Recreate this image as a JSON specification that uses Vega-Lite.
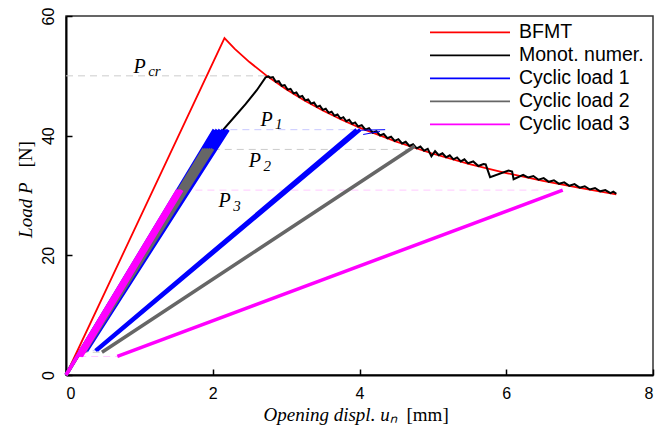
{
  "$schema": "https://vega.github.io/schema/vega-lite/v6.json",
  "width": 587,
  "height": 359,
  "autosize": {"type": "none"},
  "padding": {"left": 66, "top": 16, "right": 2, "bottom": 55},
  "background": "white",
  "config": {
    "view": {"stroke": "#333333", "strokeWidth": 1.5},
    "axis": {
      "grid": false,
      "domainColor": "#000000",
      "domainWidth": 2,
      "tickColor": "#000000",
      "tickWidth": 1.5,
      "labelFont": "Liberation Sans",
      "labelFontSize": 16,
      "labelColor": "#000000",
      "titleFont": "Liberation Serif",
      "titleFontStyle": "italic",
      "titleFontWeight": "normal",
      "titleFontSize": 19,
      "titleColor": "#000000"
    }
  },
  "resolve": {"axis": {"x": "independent", "y": "independent"}},
  "datasets": {
    "lines": [
      {"series": "BFMT", "seg": "a", "i": 1, "x": 0, "y": 0},
      {"series": "BFMT", "seg": "a", "i": 2, "x": 2.16, "y": 56.3},
      {"series": "BFMT", "seg": "a", "i": 3, "x": 2.3, "y": 54.5},
      {"series": "BFMT", "seg": "a", "i": 4, "x": 2.5, "y": 52.3},
      {"series": "BFMT", "seg": "a", "i": 5, "x": 2.75, "y": 49.87},
      {"series": "BFMT", "seg": "a", "i": 6, "x": 3.0, "y": 47.75},
      {"series": "BFMT", "seg": "a", "i": 7, "x": 3.25, "y": 45.87},
      {"series": "BFMT", "seg": "a", "i": 8, "x": 3.5, "y": 44.2},
      {"series": "BFMT", "seg": "a", "i": 9, "x": 3.75, "y": 42.7},
      {"series": "BFMT", "seg": "a", "i": 10, "x": 4.0, "y": 41.35},
      {"series": "BFMT", "seg": "a", "i": 11, "x": 4.5, "y": 38.99},
      {"series": "BFMT", "seg": "a", "i": 12, "x": 5.0, "y": 36.98},
      {"series": "BFMT", "seg": "a", "i": 13, "x": 5.5, "y": 35.26},
      {"series": "BFMT", "seg": "a", "i": 14, "x": 6.0, "y": 33.76},
      {"series": "BFMT", "seg": "a", "i": 15, "x": 6.5, "y": 32.44},
      {"series": "BFMT", "seg": "a", "i": 16, "x": 7.0, "y": 31.26},
      {"series": "BFMT", "seg": "a", "i": 17, "x": 7.5, "y": 30.2},

      {"series": "Monot. numer.", "seg": "a", "i": 1, "x": 0, "y": 0},
      {"series": "Monot. numer.", "seg": "a", "i": 2, "x": 1.0, "y": 19.1},
      {"series": "Monot. numer.", "seg": "a", "i": 3, "x": 2.15, "y": 41.1},
      {"series": "Monot. numer.", "seg": "a", "i": 4, "x": 2.3, "y": 43.2},
      {"series": "Monot. numer.", "seg": "a", "i": 5, "x": 2.45, "y": 45.3},
      {"series": "Monot. numer.", "seg": "a", "i": 6, "x": 2.6, "y": 47.6},
      {"series": "Monot. numer.", "seg": "a", "i": 7, "x": 2.72, "y": 49.75},
      {"series": "Monot. numer.", "seg": "a", "i": 8, "x": 2.76, "y": 49.9},
      {"series": "Monot. numer.", "seg": "a", "i": 9, "x": 2.78, "y": 49.7},
      {"series": "Monot. numer.", "seg": "a", "i": 10, "x": 2.82, "y": 49.80},
      {"series": "Monot. numer.", "seg": "a", "i": 11, "x": 2.86, "y": 49.0},
      {"series": "Monot. numer.", "seg": "a", "i": 12, "x": 2.90, "y": 49.11},
      {"series": "Monot. numer.", "seg": "a", "i": 13, "x": 2.94, "y": 48.33},
      {"series": "Monot. numer.", "seg": "a", "i": 14, "x": 2.98, "y": 48.46},
      {"series": "Monot. numer.", "seg": "a", "i": 15, "x": 3.02, "y": 47.69},
      {"series": "Monot. numer.", "seg": "a", "i": 16, "x": 3.06, "y": 47.83},
      {"series": "Monot. numer.", "seg": "a", "i": 17, "x": 3.10, "y": 47.07},
      {"series": "Monot. numer.", "seg": "a", "i": 18, "x": 3.14, "y": 47.22},
      {"series": "Monot. numer.", "seg": "a", "i": 19, "x": 3.18, "y": 46.47},
      {"series": "Monot. numer.", "seg": "a", "i": 20, "x": 3.22, "y": 46.64},
      {"series": "Monot. numer.", "seg": "a", "i": 21, "x": 3.26, "y": 45.90},
      {"series": "Monot. numer.", "seg": "a", "i": 22, "x": 3.30, "y": 46.07},
      {"series": "Monot. numer.", "seg": "a", "i": 23, "x": 3.34, "y": 45.35},
      {"series": "Monot. numer.", "seg": "a", "i": 24, "x": 3.38, "y": 45.53},
      {"series": "Monot. numer.", "seg": "a", "i": 25, "x": 3.42, "y": 44.82},
      {"series": "Monot. numer.", "seg": "a", "i": 26, "x": 3.46, "y": 45.01},
      {"series": "Monot. numer.", "seg": "a", "i": 27, "x": 3.50, "y": 44.31},
      {"series": "Monot. numer.", "seg": "a", "i": 28, "x": 3.54, "y": 44.50},
      {"series": "Monot. numer.", "seg": "a", "i": 29, "x": 3.58, "y": 43.81},
      {"series": "Monot. numer.", "seg": "a", "i": 30, "x": 3.62, "y": 44.02},
      {"series": "Monot. numer.", "seg": "a", "i": 31, "x": 3.66, "y": 43.33},
      {"series": "Monot. numer.", "seg": "a", "i": 32, "x": 3.70, "y": 43.54},
      {"series": "Monot. numer.", "seg": "a", "i": 33, "x": 3.74, "y": 42.86},
      {"series": "Monot. numer.", "seg": "a", "i": 34, "x": 3.78, "y": 43.09},
      {"series": "Monot. numer.", "seg": "a", "i": 35, "x": 3.82, "y": 42.41},
      {"series": "Monot. numer.", "seg": "a", "i": 36, "x": 3.86, "y": 42.64},
      {"series": "Monot. numer.", "seg": "a", "i": 37, "x": 3.90, "y": 41.98},
      {"series": "Monot. numer.", "seg": "a", "i": 38, "x": 3.94, "y": 42.21},
      {"series": "Monot. numer.", "seg": "a", "i": 39, "x": 3.98, "y": 41.55},
      {"series": "Monot. numer.", "seg": "a", "i": 40, "x": 4.03, "y": 41.75},
      {"series": "Monot. numer.", "seg": "a", "i": 41, "x": 4.08, "y": 40.99},
      {"series": "Monot. numer.", "seg": "a", "i": 42, "x": 4.13, "y": 41.25},
      {"series": "Monot. numer.", "seg": "a", "i": 43, "x": 4.18, "y": 40.50},
      {"series": "Monot. numer.", "seg": "a", "i": 44, "x": 4.23, "y": 40.76},
      {"series": "Monot. numer.", "seg": "a", "i": 45, "x": 4.28, "y": 40.03},
      {"series": "Monot. numer.", "seg": "a", "i": 46, "x": 4.33, "y": 40.29},
      {"series": "Monot. numer.", "seg": "a", "i": 47, "x": 4.38, "y": 39.57},
      {"series": "Monot. numer.", "seg": "a", "i": 48, "x": 4.43, "y": 39.84},
      {"series": "Monot. numer.", "seg": "a", "i": 49, "x": 4.48, "y": 39.12},
      {"series": "Monot. numer.", "seg": "a", "i": 50, "x": 4.53, "y": 39.41},
      {"series": "Monot. numer.", "seg": "a", "i": 51, "x": 4.58, "y": 38.69},
      {"series": "Monot. numer.", "seg": "a", "i": 52, "x": 4.63, "y": 38.98},
      {"series": "Monot. numer.", "seg": "a", "i": 53, "x": 4.68, "y": 38.28},
      {"series": "Monot. numer.", "seg": "a", "i": 54, "x": 4.73, "y": 38.57},
      {"series": "Monot. numer.", "seg": "a", "i": 55, "x": 4.78, "y": 37.88},
      {"series": "Monot. numer.", "seg": "a", "i": 56, "x": 4.83, "y": 38.18},
      {"series": "Monot. numer.", "seg": "a", "i": 57, "x": 4.88, "y": 37.49},
      {"series": "Monot. numer.", "seg": "a", "i": 58, "x": 4.93, "y": 37.80},
      {"series": "Monot. numer.", "seg": "a", "i": 59, "x": 4.98, "y": 36.55},
      {"series": "Monot. numer.", "seg": "a", "i": 60, "x": 5.03, "y": 37.42},
      {"series": "Monot. numer.", "seg": "a", "i": 61, "x": 5.08, "y": 36.74},
      {"series": "Monot. numer.", "seg": "a", "i": 62, "x": 5.13, "y": 37.06},
      {"series": "Monot. numer.", "seg": "a", "i": 63, "x": 5.18, "y": 36.39},
      {"series": "Monot. numer.", "seg": "a", "i": 64, "x": 5.23, "y": 36.71},
      {"series": "Monot. numer.", "seg": "a", "i": 65, "x": 5.28, "y": 36.04},
      {"series": "Monot. numer.", "seg": "a", "i": 66, "x": 5.33, "y": 36.37},
      {"series": "Monot. numer.", "seg": "a", "i": 67, "x": 5.38, "y": 35.70},
      {"series": "Monot. numer.", "seg": "a", "i": 68, "x": 5.43, "y": 36.04},
      {"series": "Monot. numer.", "seg": "a", "i": 69, "x": 5.48, "y": 35.38},
      {"series": "Monot. numer.", "seg": "a", "i": 70, "x": 5.55, "y": 35.70},
      {"series": "Monot. numer.", "seg": "a", "i": 71, "x": 5.62, "y": 34.93},
      {"series": "Monot. numer.", "seg": "a", "i": 72, "x": 5.69, "y": 35.25},
      {"series": "Monot. numer.", "seg": "a", "i": 73, "x": 5.72, "y": 35.20},
      {"series": "Monot. numer.", "seg": "a", "i": 74, "x": 5.78, "y": 33.06},
      {"series": "Monot. numer.", "seg": "a", "i": 75, "x": 6.03, "y": 34.17},
      {"series": "Monot. numer.", "seg": "a", "i": 76, "x": 6.08, "y": 34.0},
      {"series": "Monot. numer.", "seg": "a", "i": 77, "x": 6.10, "y": 32.72},
      {"series": "Monot. numer.", "seg": "a", "i": 78, "x": 6.23, "y": 33.45},
      {"series": "Monot. numer.", "seg": "a", "i": 79, "x": 6.30, "y": 33.0},
      {"series": "Monot. numer.", "seg": "a", "i": 80, "x": 6.37, "y": 33.25},
      {"series": "Monot. numer.", "seg": "a", "i": 81, "x": 6.44, "y": 32.64},
      {"series": "Monot. numer.", "seg": "a", "i": 82, "x": 6.51, "y": 32.9},
      {"series": "Monot. numer.", "seg": "a", "i": 83, "x": 6.58, "y": 32.29},
      {"series": "Monot. numer.", "seg": "a", "i": 84, "x": 6.65, "y": 32.55},
      {"series": "Monot. numer.", "seg": "a", "i": 85, "x": 6.72, "y": 31.95},
      {"series": "Monot. numer.", "seg": "a", "i": 86, "x": 6.79, "y": 32.2},
      {"series": "Monot. numer.", "seg": "a", "i": 87, "x": 6.86, "y": 31.62},
      {"series": "Monot. numer.", "seg": "a", "i": 88, "x": 6.93, "y": 31.9},
      {"series": "Monot. numer.", "seg": "a", "i": 89, "x": 7.00, "y": 31.31},
      {"series": "Monot. numer.", "seg": "a", "i": 90, "x": 7.07, "y": 31.55},
      {"series": "Monot. numer.", "seg": "a", "i": 91, "x": 7.14, "y": 31.0},
      {"series": "Monot. numer.", "seg": "a", "i": 92, "x": 7.21, "y": 31.25},
      {"series": "Monot. numer.", "seg": "a", "i": 93, "x": 7.28, "y": 30.70},
      {"series": "Monot. numer.", "seg": "a", "i": 94, "x": 7.35, "y": 30.9},
      {"series": "Monot. numer.", "seg": "a", "i": 95, "x": 7.42, "y": 30.4},
      {"series": "Monot. numer.", "seg": "a", "i": 96, "x": 7.46, "y": 30.65},
      {"series": "Monot. numer.", "seg": "a", "i": 97, "x": 7.50, "y": 30.3},

      {"series": "Cyclic load 1", "seg": "a", "i": 1, "x": 0, "y": 0},
      {"series": "Cyclic load 1", "seg": "a", "i": 2, "x": 2.02, "y": 41},
      {"series": "Cyclic load 1", "seg": "a", "i": 3, "x": 0.20, "y": 4},
      {"series": "Cyclic load 1", "seg": "a", "i": 4, "x": 2.06, "y": 41},
      {"series": "Cyclic load 1", "seg": "a", "i": 5, "x": 0.22, "y": 4},
      {"series": "Cyclic load 1", "seg": "a", "i": 6, "x": 2.10, "y": 41},
      {"series": "Cyclic load 1", "seg": "a", "i": 7, "x": 0.24, "y": 4},
      {"series": "Cyclic load 1", "seg": "a", "i": 8, "x": 2.14, "y": 41},
      {"series": "Cyclic load 1", "seg": "a", "i": 9, "x": 0.26, "y": 4},
      {"series": "Cyclic load 1", "seg": "a", "i": 10, "x": 2.18, "y": 41},
      {"series": "Cyclic load 1", "seg": "a", "i": 11, "x": 0.28, "y": 4},
      {"series": "Cyclic load 1", "seg": "a", "i": 12, "x": 2.21, "y": 41},
      {"series": "Cyclic load 1", "seg": "b", "i": 13, "x": 0.40, "y": 4.1},
      {"series": "Cyclic load 1", "seg": "b", "i": 14, "x": 3.96, "y": 41},
      {"series": "Cyclic load 1", "seg": "b", "i": 15, "x": 0.42, "y": 4.1},
      {"series": "Cyclic load 1", "seg": "b", "i": 16, "x": 4.01, "y": 41},
      {"series": "Cyclic load 1", "seg": "t1", "i": 17, "x": 3.98, "y": 40.9},
      {"series": "Cyclic load 1", "seg": "t1", "i": 18, "x": 4.35, "y": 41.0},
      {"series": "Cyclic load 1", "seg": "t2", "i": 19, "x": 4.05, "y": 40.2},
      {"series": "Cyclic load 1", "seg": "t2", "i": 20, "x": 4.28, "y": 40.7},

      {"series": "Cyclic load 2", "seg": "a", "i": 1, "x": 0, "y": 0},
      {"series": "Cyclic load 2", "seg": "a", "i": 2, "x": 1.88, "y": 37.8},
      {"series": "Cyclic load 2", "seg": "a", "i": 3, "x": 0.19, "y": 3.8},
      {"series": "Cyclic load 2", "seg": "a", "i": 4, "x": 1.91, "y": 37.8},
      {"series": "Cyclic load 2", "seg": "a", "i": 5, "x": 0.21, "y": 3.8},
      {"series": "Cyclic load 2", "seg": "a", "i": 6, "x": 1.94, "y": 37.8},
      {"series": "Cyclic load 2", "seg": "a", "i": 7, "x": 0.23, "y": 3.8},
      {"series": "Cyclic load 2", "seg": "a", "i": 8, "x": 1.97, "y": 37.8},
      {"series": "Cyclic load 2", "seg": "a", "i": 9, "x": 0.25, "y": 3.8},
      {"series": "Cyclic load 2", "seg": "a", "i": 10, "x": 2.0, "y": 37.8},
      {"series": "Cyclic load 2", "seg": "b", "i": 11, "x": 0.49, "y": 3.8},
      {"series": "Cyclic load 2", "seg": "b", "i": 12, "x": 4.71, "y": 37.9},
      {"series": "Cyclic load 2", "seg": "b", "i": 13, "x": 4.75, "y": 38.3},

      {"series": "Cyclic load 3", "seg": "a", "i": 1, "x": 0, "y": 0},
      {"series": "Cyclic load 3", "seg": "a", "i": 2, "x": 1.52, "y": 30.9},
      {"series": "Cyclic load 3", "seg": "a", "i": 3, "x": 0.17, "y": 3.1},
      {"series": "Cyclic load 3", "seg": "a", "i": 4, "x": 1.54, "y": 30.9},
      {"series": "Cyclic load 3", "seg": "a", "i": 5, "x": 0.19, "y": 3.1},
      {"series": "Cyclic load 3", "seg": "a", "i": 6, "x": 1.56, "y": 30.9},
      {"series": "Cyclic load 3", "seg": "a", "i": 7, "x": 0.21, "y": 3.1},
      {"series": "Cyclic load 3", "seg": "a", "i": 8, "x": 1.58, "y": 30.9},
      {"series": "Cyclic load 3", "seg": "b", "i": 9, "x": 0.70, "y": 3.1},
      {"series": "Cyclic load 3", "seg": "b", "i": 10, "x": 6.77, "y": 30.9}
    ],
    "refs": [
      {"series": "Monot. numer.", "x": 0, "x2": 2.75, "y": 50},
      {"series": "Cyclic load 1", "x": 2.24, "x2": 4.0, "y": 41},
      {"series": "Cyclic load 2", "x": 2.0, "x2": 4.71, "y": 37.7},
      {"series": "Cyclic load 3", "x": 1.6, "x2": 6.6, "y": 30.9},
      {"series": "Cyclic load 1", "x": 0.2, "x2": 0.40, "y": 4.1},
      {"series": "Cyclic load 2", "x": 0.2, "x2": 0.49, "y": 3.8},
      {"series": "Cyclic load 3", "x": 0.18, "x2": 0.70, "y": 3.1}
    ],
    "notes": [
      {"kind": "main", "label": "P", "x": 0.92, "y": 50.4},
      {"kind": "sub", "label": "cr", "x": 1.12, "y": 49.9},
      {"kind": "main", "label": "P", "x": 2.65, "y": 41.6},
      {"kind": "sub", "label": "1", "x": 2.85, "y": 41.1},
      {"kind": "main", "label": "P", "x": 2.49, "y": 34.8},
      {"kind": "sub", "label": "2", "x": 2.69, "y": 34.1},
      {"kind": "main", "label": "P", "x": 2.08, "y": 28.1},
      {"kind": "sub", "label": "3", "x": 2.28, "y": 27.4}
    ]
  },
  "encoding": {
    "x": {"field": "x", "type": "quantitative", "scale": {"domain": [0, 8], "nice": false, "zero": false}, "axis": null},
    "y": {"field": "y", "type": "quantitative", "scale": {"domain": [0, 60], "nice": false, "zero": false}, "axis": null}
  },
  "layer": [
    {
      "data": {"name": "refs"},
      "mark": {"type": "rule", "strokeDash": [7, 5], "strokeWidth": 1},
      "encoding": {
        "x": {"field": "x", "type": "quantitative", "scale": {"domain": [0, 8], "nice": false, "zero": false},
          "axis": {"orient": "bottom", "offset": 0, "values": [0, 2, 4, 6, 8], "title": "Opening displ. uₙ", "tickSize": -6, "labelPadding": 16, "titleX": 197, "titleY": 45, "titleAlign": "left", "titleAnchor": "start", "titleBaseline": "alphabetic"}},
        "y": {"field": "y", "type": "quantitative", "scale": {"domain": [0, 60], "nice": false, "zero": false},
          "axis": {"orient": "left", "offset": 0, "values": [0, 20, 40, 60], "title": "Load  P", "labelAngle": 270, "tickSize": -6, "labelPadding": 16, "titleX": -35, "titleY": 166, "titleAlign": "right", "titleAnchor": "end", "titleBaseline": "alphabetic"}},
        "x2": {"field": "x2"},
        "stroke": {"field": "series", "type": "nominal", "legend": null,
          "scale": {"domain": ["Monot. numer.", "Cyclic load 1", "Cyclic load 2", "Cyclic load 3"], "range": ["#cccccc", "#c8c8ff", "#cccccc", "#ffc8ff"]}}
      }
    },
    {
      "data": {"name": "lines"},
      "transform": [{"filter": "datum.series === 'BFMT'"}],
      "mark": {"type": "line", "strokeWidth": 1.8},
      "encoding": {
        "x": {"field": "x", "type": "quantitative", "scale": {"domain": [0, 8], "nice": false, "zero": false},
          "axis": {"orient": "bottom", "offset": 0, "labels": false, "ticks": false, "domain": false, "title": "[mm]", "titleFontStyle": "normal", "titleX": 340, "titleY": 45, "titleAlign": "left", "titleAnchor": "start", "titleBaseline": "alphabetic"}},
        "y": {"field": "y", "type": "quantitative", "scale": {"domain": [0, 60], "nice": false, "zero": false},
          "axis": {"orient": "left", "offset": 0, "labels": false, "ticks": false, "domain": false, "title": "[N]", "titleFontStyle": "normal", "titleX": -35, "titleY": 151, "titleAlign": "left", "titleAnchor": "start", "titleBaseline": "alphabetic"}},
        "color": {"field": "series", "type": "nominal",
          "scale": {"domain": ["BFMT", "Monot. numer.", "Cyclic load 1", "Cyclic load 2", "Cyclic load 3"], "range": ["#ff0000", "#000000", "#0000ff", "#666666", "#ff00ff"]},
          "legend": {"orient": "none", "legendX": 363, "legendY": 5, "title": null, "symbolType": "stroke", "symbolSize": 6400, "symbolStrokeWidth": 1.8, "clipHeight": 22.8, "labelFont": "Liberation Sans", "labelFontSize": 19.5, "labelColor": "#000000", "labelLimit": 300, "labelOffset": 8, "padding": 0, "rowPadding": 0}},
        "detail": {"field": "seg"},
        "order": {"field": "i"}
      }
    },
    {
      "data": {"name": "lines"},
      "transform": [{"filter": "datum.series === 'Monot. numer.'"}],
      "mark": {"type": "line", "strokeWidth": 2},
      "encoding": {"color": {"field": "series", "type": "nominal"}, "detail": {"field": "seg"}, "order": {"field": "i"}}
    },
    {
      "data": {"name": "lines"},
      "transform": [{"filter": "datum.series === 'Cyclic load 1' && (datum.seg === 'a' || datum.seg === 'b')"}],
      "mark": {"type": "line", "strokeWidth": 3.5},
      "encoding": {"color": {"field": "series", "type": "nominal"}, "detail": {"field": "seg"}, "order": {"field": "i"}}
    },
    {
      "data": {"name": "lines"},
      "transform": [{"filter": "datum.series === 'Cyclic load 1' && (datum.seg === 't1' || datum.seg === 't2')"}],
      "mark": {"type": "line", "strokeWidth": 1},
      "encoding": {"color": {"field": "series", "type": "nominal"}, "detail": {"field": "seg"}, "order": {"field": "i"}}
    },
    {
      "data": {"name": "lines"},
      "transform": [{"filter": "datum.series === 'Cyclic load 2'"}],
      "mark": {"type": "line", "strokeWidth": 3.5},
      "encoding": {"color": {"field": "series", "type": "nominal"}, "detail": {"field": "seg"}, "order": {"field": "i"}}
    },
    {
      "data": {"name": "lines"},
      "transform": [{"filter": "datum.series === 'Cyclic load 3'"}],
      "mark": {"type": "line", "strokeWidth": 3.5},
      "encoding": {"color": {"field": "series", "type": "nominal"}, "detail": {"field": "seg"}, "order": {"field": "i"}}
    },
    {
      "data": {"name": "notes"},
      "transform": [{"filter": "datum.kind === 'main'"}],
      "mark": {"type": "text", "font": "Liberation Serif", "fontStyle": "italic", "fontSize": 20, "align": "left", "baseline": "alphabetic", "color": "#000000"},
      "encoding": {"text": {"field": "label"}}
    },
    {
      "data": {"name": "notes"},
      "transform": [{"filter": "datum.kind === 'sub'"}],
      "mark": {"type": "text", "font": "Liberation Serif", "fontStyle": "italic", "fontSize": 15, "align": "left", "baseline": "alphabetic", "color": "#000000"},
      "encoding": {"text": {"field": "label"}}
    }
  ]
}
